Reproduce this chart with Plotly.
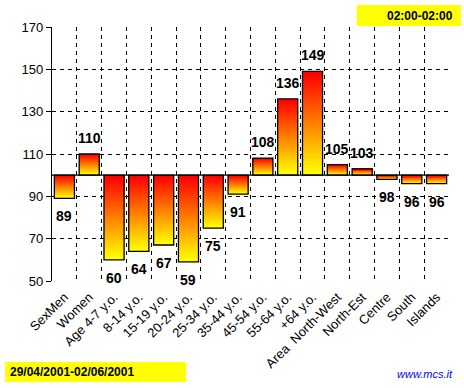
import plotly.graph_objects as go

categories = ["SexMen", "Women", "Age 4-7 y.o.", "8-14 y.o.", "15-19 y.o.", "20-24 y.o.",
              "25-34 y.o.", "35-44 y.o.", "45-54 y.o.", "55-64 y.o.", "+64 y.o.",
              "Area  North-West", "North-Est", "Centre", "South", "Islands"]
values = [89, 110, 60, 64, 67, 59, 75, 91, 108, 136, 149, 105, 103, 98, 96, 96]
BASE = 100
y_ticks = [50, 70, 90, 110, 130, 150, 170]
time_label = "02:00-02:00"
period_label = "29/04/2001-02/06/2001"
site_label = "www.mcs.it"

N_SEG = 30
fig = go.Figure()

lo = [min(BASE, v) for v in values]
hi = [max(BASE, v) for v in values]
# gradient: red at bar top -> yellow at bar bottom; drawn as nested segments (longest first)
for k in range(N_SEG - 1, -1, -1):
    t = k / (N_SEG - 1)
    g = int(round(255 * t))
    color = f"rgb(255,{g},0)"
    bases = [h - (k + 1) * (h - l) / N_SEG for l, h in zip(lo, hi)]
    heights = [(k + 1) * (h - l) / N_SEG for l, h in zip(lo, hi)]
    fig.add_trace(go.Bar(x=categories, y=heights, base=bases, marker=dict(color=color, line=dict(width=0)),
                         hoverinfo="skip", showlegend=False))

# outline
fig.add_trace(go.Bar(x=categories, y=[v - BASE for v in values], base=BASE,
                     marker=dict(color="rgba(0,0,0,0)", line=dict(color="black", width=1.3)),
                     showlegend=False))

for c, v in zip(categories, values):
    fig.add_annotation(x=c, y=v, text=str(v), showarrow=False,
                       yanchor="bottom" if v >= BASE else "top",
                       yshift=6 if v >= BASE else -8,
                       font=dict(family="Arial", size=14, color="black", weight="bold"))

fig.add_shape(type="line", xref="paper", x0=0, x1=1, yref="y", y0=BASE, y1=BASE,
              line=dict(color="black", width=1.3))

# yellow boxes
fig.add_shape(type="rect", xref="paper", yref="paper", x0=0.768, x1=1.03, y0=1.004, y1=1.087,
              fillcolor="#FFFF00", line=dict(width=0))
fig.add_annotation(xref="paper", yref="paper", x=1.016, y=1.045, xanchor="right", yanchor="middle",
                   text=time_label, showarrow=False,
                   font=dict(family="Arial", size=12, color="black", weight="bold"))
fig.add_shape(type="rect", xref="paper", yref="paper", x0=-0.118, x1=0.3375, y0=-0.398, y1=-0.319,
              fillcolor="#FFFF00", line=dict(width=0))
fig.add_annotation(xref="paper", yref="paper", x=-0.112, y=-0.358, xanchor="left", yanchor="middle",
                   text=period_label, showarrow=False,
                   font=dict(family="Arial", size=12, color="black", weight="bold"))
fig.add_annotation(xref="paper", yref="paper", x=1.015, y=-0.366, xanchor="right", yanchor="middle",
                   text=f"<i>{site_label}</i>", showarrow=False,
                   font=dict(family="Arial", size=11, color="#0000FF"))

fig.update_layout(
    width=464, height=388,
    margin=dict(l=52, r=15, t=27, b=107),
    paper_bgcolor="white", plot_bgcolor="white",
    barmode="overlay", bargap=0.19,
    showlegend=False,
    font=dict(family="Arial", size=12, color="black"),
)
fig.update_xaxes(type="category", tickson="boundaries", showgrid=True, gridcolor="black",
                 griddash="4px,4px", gridwidth=1, ticks="", tickangle=-45, ticklabelstandoff=5,
                 tickfont=dict(family="Arial", size=13), showline=False, zeroline=False)
fig.update_yaxes(range=[50, 170], tickvals=y_ticks, showgrid=True, gridcolor="black",
                 griddash="4px,4px", gridwidth=1, ticks="outside", ticklen=5, tickcolor="black",
                 showline=True, linecolor="black", linewidth=1.3, zeroline=False,
                 tickfont=dict(family="Arial", size=13))

fig.write_html("out.html", config={"displayModeBar": False},
               post_script="document.body.style.margin='0';document.body.style.overflow='hidden';")
